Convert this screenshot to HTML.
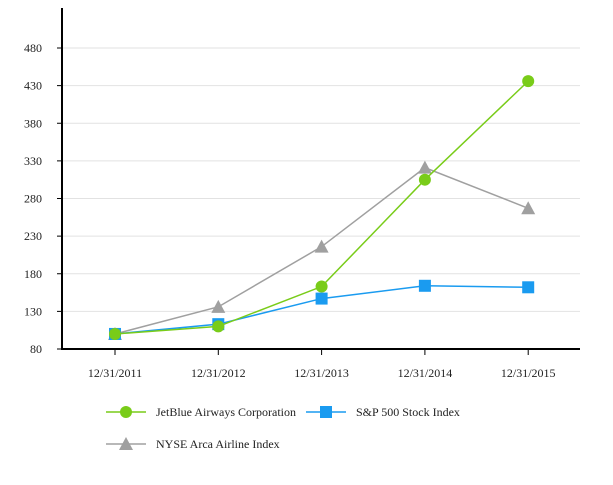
<!DOCTYPE html>
<html><head><meta charset="utf-8"><style>
html,body{margin:0;padding:0;background:#fff}
svg text{font-family:"Liberation Serif",serif;font-size:12px;fill:#222}
</style></head><body>
<svg id="c" width="613" height="480"></svg>
<script>
const categories=["12/31/2011","12/31/2012","12/31/2013","12/31/2014","12/31/2015"];
const jetblue=[100,110,163,305,436];
const sp500=[100,113,147,164,162];
const nyse=[100,136,216,321,267];
const yTicks=[80,130,180,230,280,330,380,430,480];
const NS="http://www.w3.org/2000/svg";
const svg=document.getElementById('c');
function y(v){return 349-(v-80)*(301/400);}
function x(i){return 115+i*103.3;}
function mk(t,a,p){const e=document.createElementNS(NS,t);for(const k in a)e.setAttribute(k,a[k]);(p||svg).appendChild(e);return e;}
const grid=mk('g',{});


yTicks.forEach(v=>{
 if(v>80){const l=mk('line',{x1:62,x2:580,y1:y(v),y2:y(v),stroke:'#e2e2e2','stroke-width':1},grid);
 
 }
 const tk=mk('line',{x1:57,x2:62,y1:y(v),y2:y(v),stroke:'#000'});
 
 
 const t=mk('text',{x:42,y:y(v)+4,'text-anchor':'end'});t.textContent=v;
 
 
});
const ya=mk('line',{x1:62,x2:62,y1:8,y2:350,stroke:'#000','stroke-width':2});


const xa=mk('line',{x1:61,x2:580,y1:349,y2:349,stroke:'#000','stroke-width':2});


categories.forEach((c,i)=>{
 const tk=mk('line',{x1:x(i),x2:x(i),y1:349,y2:355,stroke:'#000'});
 
 
 const t=mk('text',{x:x(i),y:377,'text-anchor':'middle'});t.textContent=c;
 
 
});
function marker(type,cx,cy,color,g){
 if(type==='circle')return mk('circle',{cx:cx,cy:cy,r:6,fill:color},g);
 if(type==='square')return mk('rect',{x:cx-6,y:cy-6,width:12,height:12,fill:color},g);
 return mk('polygon',{points:`${cx},${cy-7} ${cx-7},${cy+6} ${cx+7},${cy+6}`,fill:color},g);
}
function series(vals,color,type,name){
 const g=mk('g',{});
 
 
 const l=mk('polyline',{points:vals.map((v,i)=>x(i)+','+y(v)).join(' '),fill:'none',stroke:color,'stroke-width':1.5},g);
 
 
 vals.forEach((v,i)=>{const m=marker(type,x(i),y(v),color,g);
  
  });
}
series(nyse,'#a0a0a0','tri','nyse-arca-series');
series(sp500,'#1a9bf0','square','sp500-series');
series(jetblue,'#79cc19','circle','jetblue-series');
function legend(lx,ly,color,type,label,name){
 const g=mk('g',{});
 
 
 mk('line',{x1:lx,x2:lx+40,y1:ly,y2:ly,stroke:color,'stroke-width':1.5},g);
 marker(type,lx+20,ly,color,g);
 const t=mk('text',{x:lx+50,y:ly+4},g);t.textContent=label;
}
legend(106,412,'#79cc19','circle','JetBlue Airways Corporation','legend-jetblue');
legend(306,412,'#1a9bf0','square','S&P 500 Stock Index','legend-sp500');
legend(106,444,'#a0a0a0','tri','NYSE Arca Airline Index','legend-nyse');
</script>
</body></html>
